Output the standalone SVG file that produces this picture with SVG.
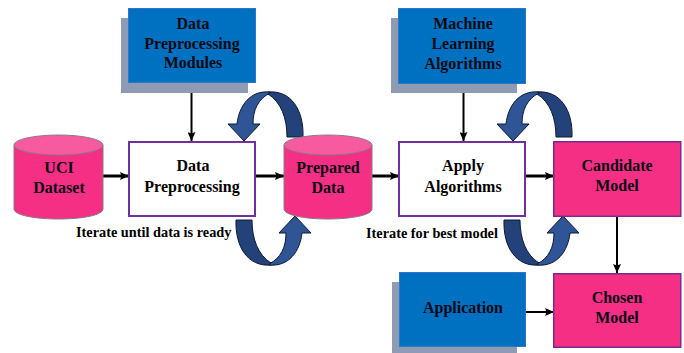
<svg xmlns="http://www.w3.org/2000/svg" xmlns:xlink="http://www.w3.org/1999/xlink" width="684" height="353" viewBox="0 0 684 353">
<style>
text{font-family:"Liberation Serif","Times New Roman",serif;font-size:16px;font-weight:bold;text-anchor:middle;fill:#0a0a14}
.note{font-size:14.300px;text-anchor:start;fill:#000}
.shadow{fill:#8f9bb3}
.blue{fill:#0070c0;stroke:#2f75c8;stroke-width:1}
.white{fill:#fff;stroke:#7030a0;stroke-width:2}
.pink{fill:#f52f84;stroke:#7a2a90;stroke-width:1.5}
.cyl{fill:#f52f84;stroke:#8a7a88;stroke-width:1}
.cap{fill:#f85a9f;stroke:#8a7a88;stroke-width:1}
.line{stroke:#000;fill:none;stroke-width:2}
.thick{stroke:#000;fill:none;stroke-width:3}
.dark{fill:#24427a;stroke:#0c1830;stroke-width:1}
.light{fill:#2f5597;stroke:#0c1830;stroke-width:1}
.k{fill:#000}
</style>
<defs>
<marker id="a" markerUnits="userSpaceOnUse" markerWidth="10" markerHeight="8" refX="9" refY="4" orient="auto"><path d="M0 0L9 4L0 8L1.500 4Z" fill="#000"/></marker>
<g id="loop">
<path class="dark" d="M268 92C291 90 304 110 303 137L287 137C287 118 281 102 268 94Z"/>
<path class="light" d="M270 93C258 99 253 110 253 124L260 124L244 141L228 124L237 124C239 106 250 90 270 92Z"/>
</g>
</defs>
<g id="connectors">
<path class="line" marker-end="url(#a)" d="M191.500 82V141"/>
<path class="thick" marker-end="url(#a)" d="M103 176H129"/>
<path class="thick" marker-end="url(#a)" d="M255 176H284"/>
<path class="thick" marker-end="url(#a)" d="M372 176H399"/>
<path class="line" marker-end="url(#a)" d="M463.500 83V141"/>
<path class="thick" marker-end="url(#a)" d="M526 176H554"/>
<path class="line" marker-end="url(#a)" d="M617 216V273"/>
<path class="line" marker-end="url(#a)" d="M526 312H554"/>
<use xlink:href="#loop" href="#loop"/>
<use xlink:href="#loop" href="#loop" transform="rotate(180 269.500 178.500)"/>
<use xlink:href="#loop" href="#loop" transform="translate(269 0)"/>
<use xlink:href="#loop" href="#loop" transform="translate(268 0) rotate(180 269.500 178.500)"/>
</g>
<g id="data-preprocessing-modules">
<rect class="shadow" x="121" y="18" width="127" height="75"/>
<rect class="blue" x="128.500" y="8.500" width="127" height="74"/>
<text x="193" y="29">Data</text><text x="192" y="49">Preprocessing</text><text x="193" y="68">Modules</text>
</g>
<g id="machine-learning-algorithms">
<rect class="shadow" x="391" y="18" width="126" height="75"/>
<rect class="blue" x="398.500" y="8.500" width="127" height="75"/>
<text x="463" y="29">Machine</text><text x="463" y="49">Learning</text><text x="463" y="69">Algorithms</text>
</g>
<g id="application">
<rect class="shadow" x="392" y="282" width="125" height="71"/>
<rect class="blue" x="399.500" y="272.500" width="126" height="74"/>
<text x="463" y="313">Application</text>
</g>
<g id="uci-dataset">
<path class="cyl" d="M14 145V209C14 215 34 219 58.500 219C83 219 103 215 103 209V145Z"/>
<ellipse class="cap" cx="58.500" cy="145" rx="44.500" ry="10"/>
<text x="59" y="173">UCI</text><text x="59" y="193">Dataset</text>
</g>
<g id="prepared-data">
<path class="cyl" d="M284 145V209C284 215 304 219 328 219C352 219 372 215 372 209V145Z"/>
<ellipse class="cap" cx="328" cy="145" rx="44" ry="10"/>
<text x="328" y="173">Prepared</text><text x="328" y="193">Data</text>
</g>
<g id="data-preprocessing">
<rect class="white" x="129" y="142" width="126" height="74"/>
<text class="k" x="193" y="171">Data</text><text class="k" x="192" y="192">Preprocessing</text>
</g>
<g id="apply-algorithms">
<rect class="white" x="399" y="142" width="126" height="74"/>
<text class="k" x="463" y="171">Apply</text><text class="k" x="463" y="192">Algorithms</text>
</g>
<g id="candidate-model">
<rect class="pink" x="553.750" y="141.750" width="127" height="74.500"/>
<text x="617" y="171">Candidate</text><text x="617" y="191">Model</text>
</g>
<g id="chosen-model">
<rect class="pink" x="553.750" y="273.750" width="127" height="73.500"/>
<text x="617" y="303">Chosen</text><text x="617" y="323">Model</text>
</g>
<g id="notes">
<text class="note" x="76" y="237">Iterate until data is ready</text>
<text class="note" x="366" y="238">Iterate for best model</text>
</g>
</svg>
